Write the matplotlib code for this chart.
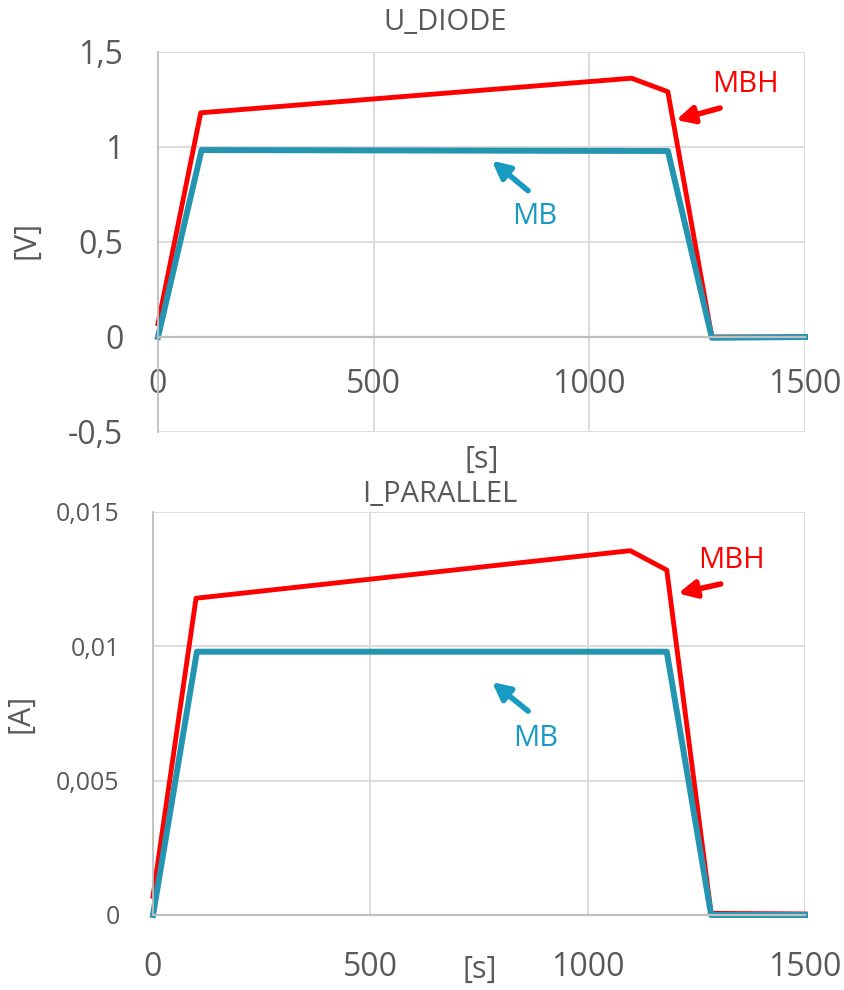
import numpy as np
import matplotlib.pyplot as plt

plt.rcParams['font.family'] = ['Open Sans', 'DejaVu Sans']

# time axis breakpoints [s] and values of the two models
t_mbh = [0, 99, 1098, 1182, 1284, 1500]
u_mbh = [0.07, 1.18, 1.362, 1.291, 0.0, 0.0]
t_mb = [0, 101, 1182, 1284, 1500]
u_mb = [0.0, 0.984, 0.979, -0.004, 0.0]

i_mbh = [0.0007, 0.01179, 0.01356, 0.01284, 0.00006, 0.00004]
i_mb = [0.0, 0.0098, 0.0098, 0.0, 0.0]

x_ticks = [0, 500, 1000, 1500]
u_ticks = [-0.5, 0, 0.5, 1, 1.5]
u_labels = ['-0,5', '0', '0,5', '1', '1,5']
i_ticks = [0, 0.005, 0.01, 0.015]
i_labels = ['0', '0,005', '0,01', '0,015']

RED = '#FF0000'
BLUE = '#2395B1'
BLUE_TXT = '#179BC3'
GREY_TXT = '#595959'
GRID = '#D9D9D9'
AXIS = '#BFBFBF'

W, H = 845, 990
fig = plt.figure(figsize=(W / 100, H / 100), dpi=100)


def px(x, y):
    return x / W, 1 - y / H


def style(ax, yticks, ylabels, ysize, xpad, ypad):
    ax.set_xlim(0, 1500)
    ax.set_xticks(x_ticks)
    ax.set_xticklabels([str(v) for v in x_ticks])
    ax.set_yticks(yticks)
    ax.set_yticklabels(ylabels)
    ax.grid(True, color=GRID, lw=1.3)
    ax.set_axisbelow(True)
    for s in ['top', 'right']:
        ax.spines[s].set_visible(False)
    ax.spines['bottom'].set_position(('data', 0))
    ax.spines['bottom'].set_color(AXIS)
    ax.spines['bottom'].set_linewidth(1.6)
    ax.spines['left'].set_color(AXIS)
    ax.spines['left'].set_linewidth(1.3)
    ax.tick_params(length=0, colors=GREY_TXT)
    ax.tick_params(axis='x', labelsize=23, pad=xpad)
    ax.tick_params(axis='y', labelsize=ysize, pad=ypad)


def callout(ax, text, color, text_xy, tail, head):
    ax.text(*text_xy, text, color=color, fontsize=21, ha='center', va='center')
    ax.annotate('', xy=head, xytext=tail,
                arrowprops=dict(arrowstyle='-|>', color=color, lw=4,
                                mutation_scale=26, shrinkA=0, shrinkB=0))


# ---- U_DIODE ----
ax1 = fig.add_axes([158 / W, 1 - 432 / H, 647 / W, 380 / H])
ax1.set_ylim(-0.5, 1.5)
style(ax1, u_ticks, u_labels, 23, 22, 25)
ax1.plot(t_mbh, u_mbh, color=RED, lw=3.5, solid_joinstyle='round', clip_on=False)
ax1.plot(t_mb, u_mb, color=BLUE, lw=4.3, solid_joinstyle='round', clip_on=False)
callout(ax1, 'MBH', RED, (1361, 1.33), (1303, 1.205), (1201, 1.142))
callout(ax1, 'MB', BLUE_TXT, (874, 0.633), (858, 0.770), (774, 0.928))
fig.text(*px(445, 23), 'U_DIODE', fontsize=21, color=GREY_TXT, ha='center', va='center')
fig.text(*px(482, 460), '[s]', fontsize=22, color=GREY_TXT, ha='center', va='center')
fig.text(*px(26, 240), '[V]', fontsize=22, color=GREY_TXT, ha='center', va='center',
         rotation=90)

# ---- I_PARALLEL ----
ax2 = fig.add_axes([153 / W, 1 - 915 / H, 652 / W, 403 / H])
ax2.set_ylim(0, 0.015)
style(ax2, i_ticks, i_labels, 18, 26, 24)
ax2.plot(t_mbh, i_mbh, color=RED, lw=3.5, solid_joinstyle='round', clip_on=False)
ax2.plot(t_mb, i_mb, color=BLUE, lw=4.3, solid_joinstyle='round', clip_on=False)
callout(ax2, 'MBH', RED, (1330, 0.01318), (1306, 0.01232), (1208, 0.01197))
callout(ax2, 'MB', BLUE_TXT, (881, 0.00658), (863, 0.00759), (780, 0.00867))
fig.text(*px(440, 495), 'I_PARALLEL', fontsize=21, color=GREY_TXT, ha='center', va='center')
fig.text(*px(480, 970), '[s]', fontsize=22, color=GREY_TXT, ha='center', va='center')
fig.text(*px(20, 713), '[A]', fontsize=22, color=GREY_TXT, ha='center', va='center',
         rotation=90)

fig.savefig('out.png', dpi=100, facecolor='white')
